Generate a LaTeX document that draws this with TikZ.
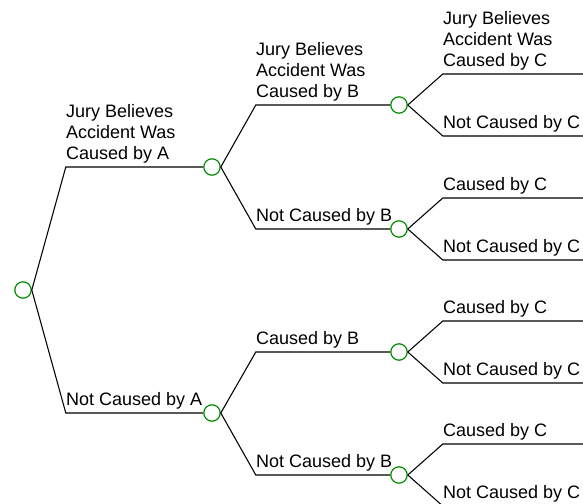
\documentclass[tikz,border=0pt]{standalone}
\usepackage{fontspec}
\setmainfont{Liberation Sans}
\definecolor{nodegreen}{RGB}{0,140,0}

\begin{document}
\begin{tikzpicture}[x=0.75pt,y=-0.75pt,
  chance/.style={circle,draw=nodegreen,line width=0.9pt,minimum size=12.3pt,inner sep=0pt},
  branch/.style={line width=0.8pt},
  lbl/.style={anchor=base west,inner sep=0pt,yshift=5.6pt,align=left,
    font=\fontsize{13.5pt}{15.75pt}\selectfont}]

\useasboundingbox (0,0) rectangle (583,504);

% Noeuds
\node[chance] (r) at (23,290) {};
\node[chance] (a1) at (212,167) {};
\node[chance] (a2) at (212,413) {};
\node[chance] (b1) at (399,105) {};
\node[chance] (b2) at (399,229) {};
\node[chance] (b3) at (399,352) {};
\node[chance] (b4) at (399,475) {};

% Branches A
\draw[branch] (r.east) -- ++(34,-123) coordinate (ka1) -- (a1.west);
\draw[branch] (r.east) -- ++(34,123) coordinate (ka2) -- (a2.west);

% Branches B
\draw[branch] (a1.east) -- ++(35,-62) coordinate (kb1) -- (b1.west);
\draw[branch] (a1.east) -- ++(35,62) coordinate (kb2) -- (b2.west);
\draw[branch] (a2.east) -- ++(35,-61) coordinate (kb3) -- (b3.west);
\draw[branch] (a2.east) -- ++(35,62) coordinate (kb4) -- (b4.west);

% Branches C
\foreach \b in {b1,b2,b3,b4}
{
    \draw[branch]
    (\b.east) --
    ++(35,-31) coordinate (\b u) --
    ++(150,0);

    \draw[branch]
    (\b.east) --
    ++(35,31) coordinate (\b d) --
    ++(150,0);
}

% Etiquettes
\node[lbl] (la1) at (ka1) {Jury Believes\\Accident Was\\Caused by A};
\node[lbl] (la2) at (ka2) {Not Caused by A};

\node[lbl] (lb1) at (kb1) {Jury Believes\\Accident Was\\Caused by B};
\node[lbl] (lb2) at (kb2) {Not Caused by B};
\node[lbl] (lb3) at (kb3) {Caused by B};
\node[lbl] (lb4) at (kb4) {Not Caused by B};

\node[lbl] (lc1) at (b1u) {Jury Believes\\Accident Was\\Caused by C};
\node[lbl] (lc2) at (b1d) {Not Caused by C};
\node[lbl] (lc3) at (b2u) {Caused by C};
\node[lbl] (lc4) at (b2d) {Not Caused by C};
\node[lbl] (lc5) at (b3u) {Caused by C};
\node[lbl] (lc6) at (b3d) {Not Caused by C};
\node[lbl] (lc7) at (b4u) {Caused by C};
\node[lbl] (lc8) at (b4d) {Not Caused by C};

\end{tikzpicture}
\end{document}
